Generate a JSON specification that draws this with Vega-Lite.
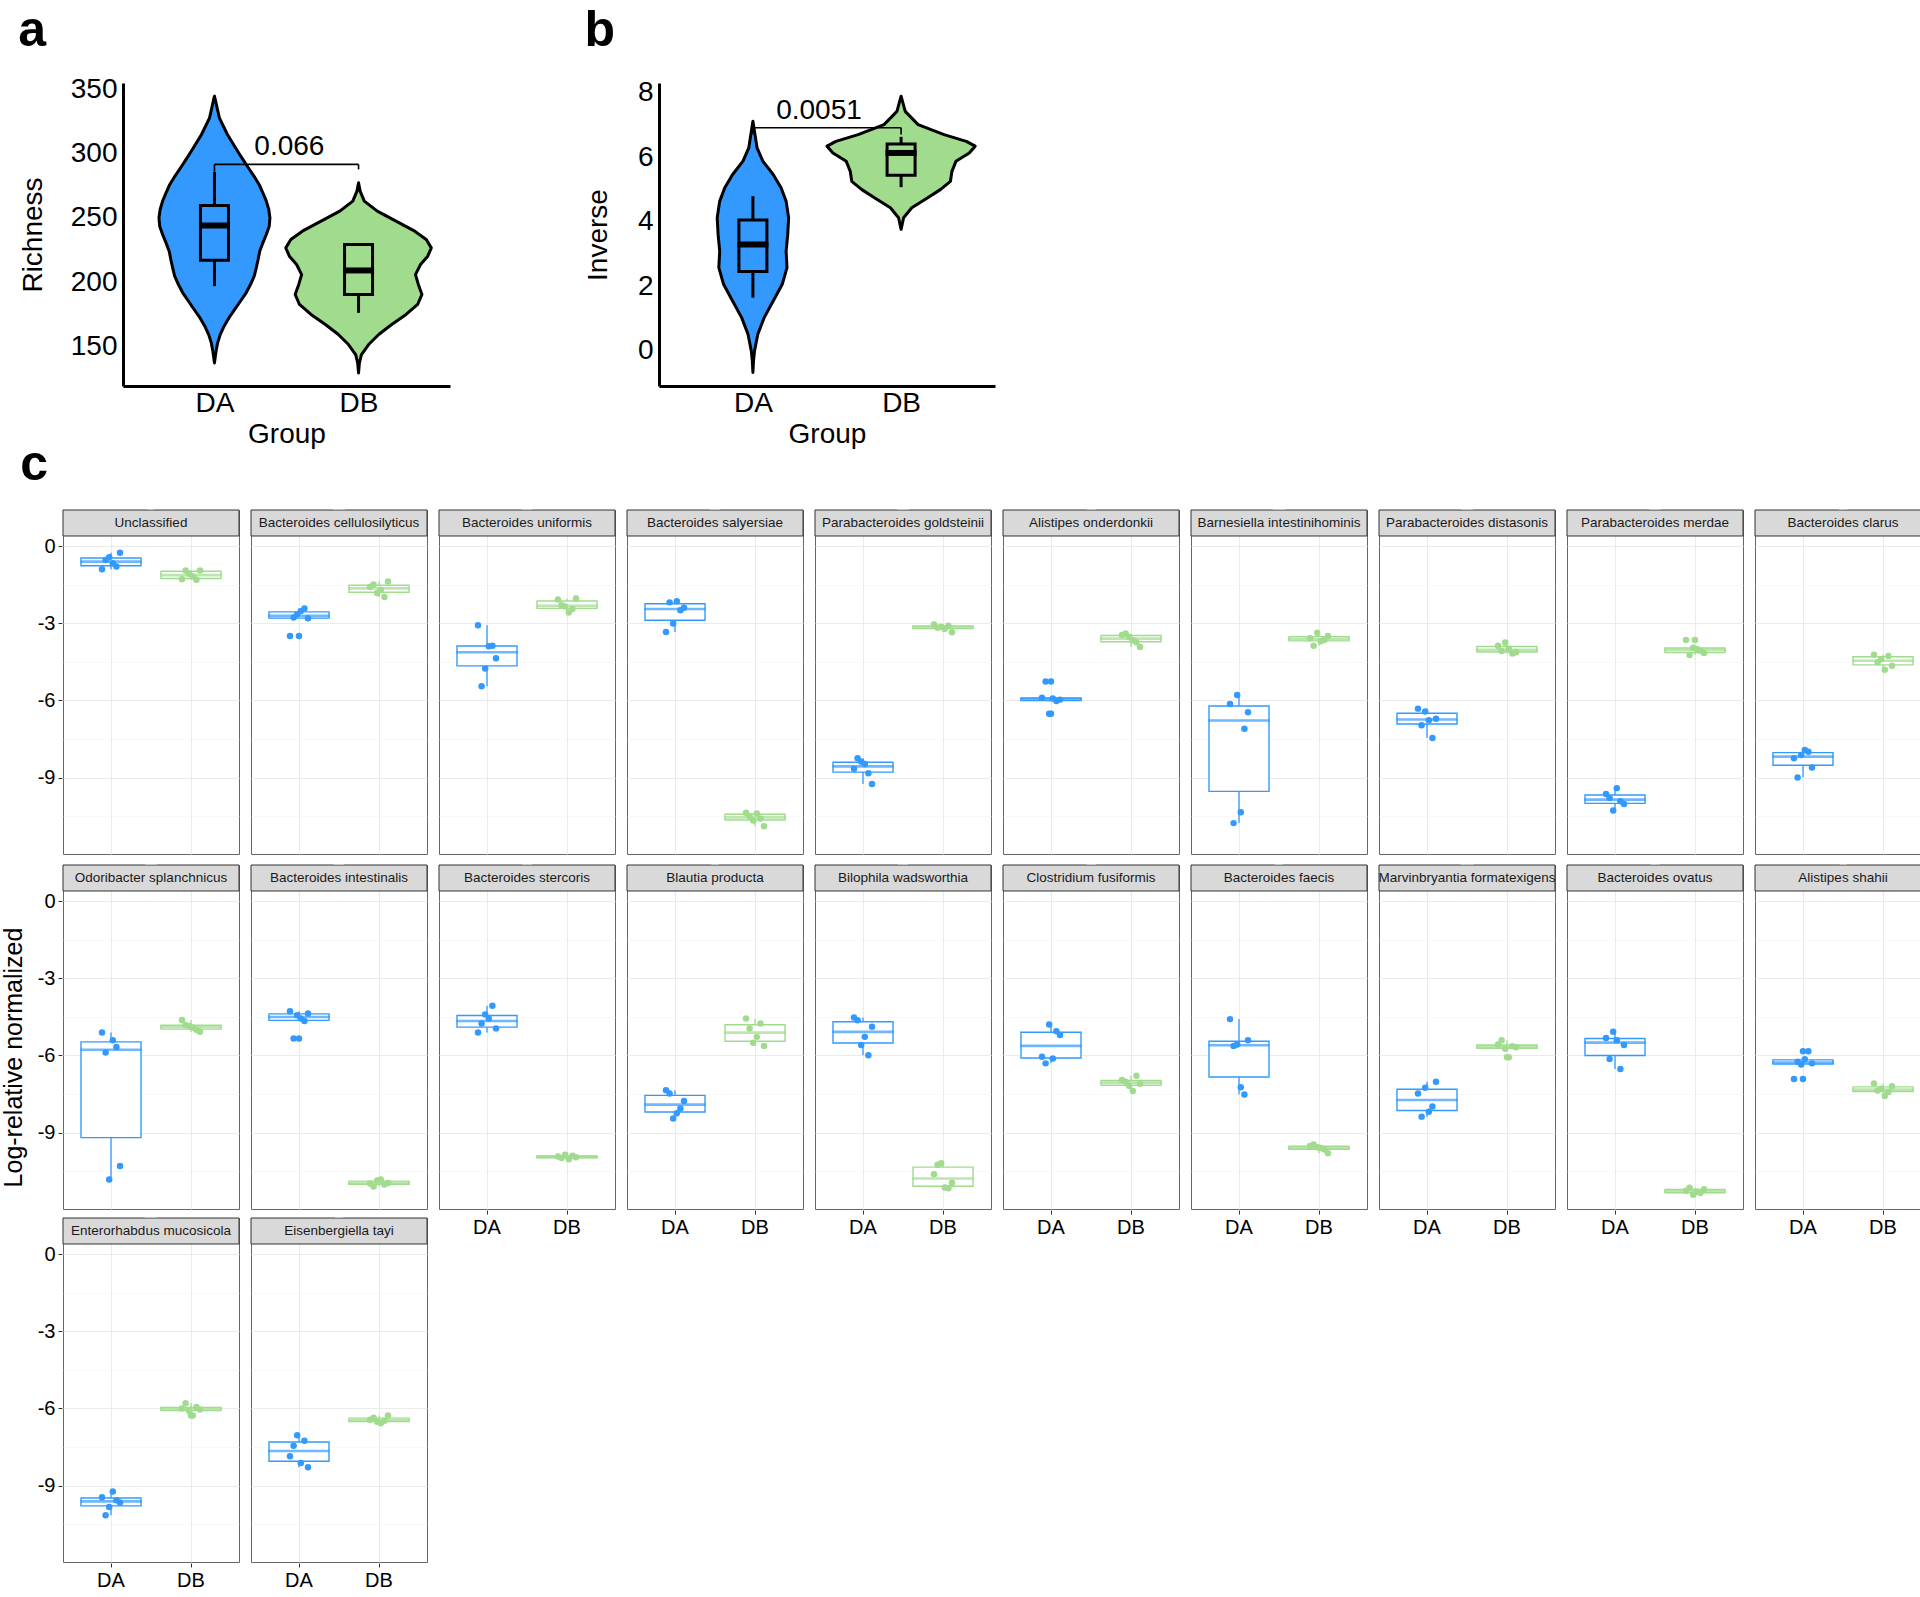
{
"$schema": "https://vega.github.io/schema/vega-lite/v6.json",
"background": "white",
"padding": {"left": 1, "top": 5, "right": 2, "bottom": 0},
"config": {
  "font": "Liberation Sans",
  "view": {"stroke": "#666666", "strokeWidth": 1},
  "axis": {"labelColor": "#000000", "titleColor": "#000000", "titleFontWeight": "normal", "labelFont": "Liberation Sans", "titleFont": "Liberation Sans"},
  "title": {"color": "#000000", "font": "Liberation Sans"},
  "header": {"labels": false, "title": null, "labelFontSize": 1, "labelColor": "#FFFFFF", "labelPadding": 0},
  "headerFacet": {"labels": false, "title": null, "labelFontSize": 1, "labelColor": "#FFFFFF", "labelPadding": 0}
},
"datasets": {
  "violin_a": [
    {"g":"DA","y":344.8,"lo":1,"hi":1},
    {"g":"DA","y":340.9,"lo":0.992,"hi":1.008},
    {"g":"DA","y":327.9,"lo":0.966,"hi":1.034},
    {"g":"DA","y":314.9,"lo":0.91,"hi":1.09},
    {"g":"DA","y":302,"lo":0.84,"hi":1.16},
    {"g":"DA","y":295.5,"lo":0.803,"hi":1.197},
    {"g":"DA","y":289,"lo":0.765,"hi":1.235},
    {"g":"DA","y":282.5,"lo":0.726,"hi":1.274},
    {"g":"DA","y":276,"lo":0.69,"hi":1.31},
    {"g":"DA","y":269.5,"lo":0.664,"hi":1.336},
    {"g":"DA","y":263,"lo":0.64,"hi":1.36},
    {"g":"DA","y":256.5,"lo":0.623,"hi":1.377},
    {"g":"DA","y":250,"lo":0.615,"hi":1.385},
    {"g":"DA","y":243.5,"lo":0.62,"hi":1.38},
    {"g":"DA","y":237,"lo":0.64,"hi":1.36},
    {"g":"DA","y":230.5,"lo":0.664,"hi":1.336},
    {"g":"DA","y":224,"lo":0.686,"hi":1.314},
    {"g":"DA","y":217.5,"lo":0.697,"hi":1.303},
    {"g":"DA","y":211,"lo":0.71,"hi":1.29},
    {"g":"DA","y":204.5,"lo":0.724,"hi":1.276},
    {"g":"DA","y":198,"lo":0.75,"hi":1.25},
    {"g":"DA","y":191.6,"lo":0.78,"hi":1.22},
    {"g":"DA","y":185,"lo":0.82,"hi":1.18},
    {"g":"DA","y":178.6,"lo":0.859,"hi":1.141},
    {"g":"DA","y":172,"lo":0.9,"hi":1.1},
    {"g":"DA","y":165.6,"lo":0.933,"hi":1.067},
    {"g":"DA","y":159,"lo":0.96,"hi":1.04},
    {"g":"DA","y":152.6,"lo":0.978,"hi":1.022},
    {"g":"DA","y":146,"lo":0.989,"hi":1.011},
    {"g":"DA","y":137,"lo":1,"hi":1},
    {"g":"DB","y":277.3,"lo":2,"hi":2},
    {"g":"DB","y":270.8,"lo":1.989,"hi":2.011},
    {"g":"DB","y":263.0,"lo":1.96,"hi":2.04},
    {"g":"DB","y":255.2,"lo":1.87,"hi":2.13},
    {"g":"DB","y":247.4,"lo":1.74,"hi":2.26},
    {"g":"DB","y":239.6,"lo":1.61,"hi":2.39},
    {"g":"DB","y":233.1,"lo":1.53,"hi":2.47},
    {"g":"DB","y":226.6,"lo":1.495,"hi":2.505},
    {"g":"DB","y":220.1,"lo":1.52,"hi":2.48},
    {"g":"DB","y":213.6,"lo":1.57,"hi":2.43},
    {"g":"DB","y":205.8,"lo":1.605,"hi":2.395},
    {"g":"DB","y":198.1,"lo":1.585,"hi":2.415},
    {"g":"DB","y":190.3,"lo":1.56,"hi":2.44},
    {"g":"DB","y":182.5,"lo":1.59,"hi":2.41},
    {"g":"DB","y":174.7,"lo":1.67,"hi":2.33},
    {"g":"DB","y":166.9,"lo":1.77,"hi":2.23},
    {"g":"DB","y":159.1,"lo":1.86,"hi":2.14},
    {"g":"DB","y":151.3,"lo":1.93,"hi":2.07},
    {"g":"DB","y":143.5,"lo":1.98,"hi":2.02},
    {"g":"DB","y":137.0,"lo":1.994,"hi":2.006},
    {"g":"DB","y":129.2,"lo":2,"hi":2}
  ],
  "box_a": [
    {"g":"DA","pos":1,"lower":196.8,"q1":217,"median":244,"q3":259.6,"upper":285.8},
    {"g":"DB","pos":2,"lower":176,"q1":190.3,"median":209,"q3":229.2,"upper":230}
  ],
  "brk_a": [
    {"x1":1,"x2":2,"y1":291.6,"y2":291.6},
    {"x1":1,"x2":1,"y1":291.6,"y2":286},
    {"x1":2,"x2":2,"y1":291.6,"y2":287.7}
  ],
  "lab_a": [{"lx":1.52,"ly":298.8,"label":"0.066"}],
  "violin_b": [
    {"g":"DA","y":7.123,"lo":1,"hi":1},
    {"g":"DA","y":6.71,"lo":0.986,"hi":1.014},
    {"g":"DA","y":6.297,"lo":0.972,"hi":1.028},
    {"g":"DA","y":5.884,"lo":0.933,"hi":1.067},
    {"g":"DA","y":5.471,"lo":0.863,"hi":1.137},
    {"g":"DA","y":5.058,"lo":0.81,"hi":1.19},
    {"g":"DA","y":4.645,"lo":0.776,"hi":1.224},
    {"g":"DA","y":4.129,"lo":0.759,"hi":1.241},
    {"g":"DA","y":3.613,"lo":0.765,"hi":1.235},
    {"g":"DA","y":3.097,"lo":0.776,"hi":1.224},
    {"g":"DA","y":2.581,"lo":0.77,"hi":1.23},
    {"g":"DA","y":2.065,"lo":0.802,"hi":1.198},
    {"g":"DA","y":1.548,"lo":0.863,"hi":1.137},
    {"g":"DA","y":1.032,"lo":0.924,"hi":1.076},
    {"g":"DA","y":0.516,"lo":0.967,"hi":1.033},
    {"g":"DA","y":0.0,"lo":0.989,"hi":1.011},
    {"g":"DA","y":-0.31,"lo":0.996,"hi":1.004},
    {"g":"DA","y":-0.671,"lo":1,"hi":1},
    {"g":"DB","y":7.90,"lo":2,"hi":2},
    {"g":"DB","y":7.43,"lo":1.972,"hi":2.028},
    {"g":"DB","y":7.02,"lo":1.885,"hi":2.115},
    {"g":"DB","y":6.71,"lo":1.71,"hi":2.29},
    {"g":"DB","y":6.50,"lo":1.56,"hi":2.44},
    {"g":"DB","y":6.35,"lo":1.50,"hi":2.50},
    {"g":"DB","y":6.14,"lo":1.54,"hi":2.46},
    {"g":"DB","y":5.88,"lo":1.63,"hi":2.37},
    {"g":"DB","y":5.57,"lo":1.657,"hi":2.343},
    {"g":"DB","y":5.26,"lo":1.667,"hi":2.333},
    {"g":"DB","y":5.01,"lo":1.733,"hi":2.267},
    {"g":"DB","y":4.75,"lo":1.82,"hi":2.18},
    {"g":"DB","y":4.44,"lo":1.928,"hi":2.072},
    {"g":"DB","y":4.13,"lo":1.983,"hi":2.017},
    {"g":"DB","y":3.77,"lo":2,"hi":2}
  ],
  "box_b": [
    {"g":"DA","pos":1,"lower":1.65,"q1":2.46,"median":3.30,"q3":4.06,"upper":4.80},
    {"g":"DB","pos":2,"lower":5.08,"q1":5.45,"median":6.14,"q3":6.42,"upper":6.64}
  ],
  "brk_b": [
    {"x1":1,"x2":2,"y1":6.92,"y2":6.92},
    {"x1":1,"x2":1,"y1":6.92,"y2":6.72},
    {"x1":2,"x2":2,"y1":6.92,"y2":6.71}
  ],
  "lab_b": [{"lx":1.446,"ly":7.205,"label":"0.0051"}],
  "micro": [
    {"taxon":"Unclassified","group":"DA","sample":1,"value":-0.90},
    {"taxon":"Unclassified","group":"DA","sample":2,"value":-0.54},
    {"taxon":"Unclassified","group":"DA","sample":3,"value":-0.44},
    {"taxon":"Unclassified","group":"DA","sample":4,"value":-0.67},
    {"taxon":"Unclassified","group":"DA","sample":5,"value":-0.80},
    {"taxon":"Unclassified","group":"DA","sample":6,"value":-0.26},
    {"taxon":"Unclassified","group":"DB","sample":1,"value":-1.29},
    {"taxon":"Unclassified","group":"DB","sample":2,"value":-0.95},
    {"taxon":"Unclassified","group":"DB","sample":3,"value":-1.08},
    {"taxon":"Unclassified","group":"DB","sample":4,"value":-1.18},
    {"taxon":"Unclassified","group":"DB","sample":5,"value":-1.31},
    {"taxon":"Unclassified","group":"DB","sample":6,"value":-0.95},
    {"taxon":"Bacteroides cellulosilyticus","group":"DA","sample":1,"value":-3.50},
    {"taxon":"Bacteroides cellulosilyticus","group":"DA","sample":2,"value":-2.78},
    {"taxon":"Bacteroides cellulosilyticus","group":"DA","sample":3,"value":-2.65},
    {"taxon":"Bacteroides cellulosilyticus","group":"DA","sample":4,"value":-2.53},
    {"taxon":"Bacteroides cellulosilyticus","group":"DA","sample":5,"value":-2.43},
    {"taxon":"Bacteroides cellulosilyticus","group":"DA","sample":6,"value":-2.81},
    {"taxon":"Bacteroides cellulosilyticus","group":"DB","sample":1,"value":-1.59},
    {"taxon":"Bacteroides cellulosilyticus","group":"DB","sample":2,"value":-1.50},
    {"taxon":"Bacteroides cellulosilyticus","group":"DB","sample":3,"value":-1.83},
    {"taxon":"Bacteroides cellulosilyticus","group":"DB","sample":4,"value":-1.70},
    {"taxon":"Bacteroides cellulosilyticus","group":"DB","sample":5,"value":-1.98},
    {"taxon":"Bacteroides cellulosilyticus","group":"DB","sample":6,"value":-1.375},
    {"taxon":"Bacteroides uniformis","group":"DA","sample":1,"value":-3.08},
    {"taxon":"Bacteroides uniformis","group":"DA","sample":2,"value":-5.45},
    {"taxon":"Bacteroides uniformis","group":"DA","sample":3,"value":-4.76},
    {"taxon":"Bacteroides uniformis","group":"DA","sample":4,"value":-3.90},
    {"taxon":"Bacteroides uniformis","group":"DA","sample":5,"value":-3.88},
    {"taxon":"Bacteroides uniformis","group":"DA","sample":6,"value":-4.36},
    {"taxon":"Bacteroides uniformis","group":"DB","sample":1,"value":-2.08},
    {"taxon":"Bacteroides uniformis","group":"DB","sample":2,"value":-2.30},
    {"taxon":"Bacteroides uniformis","group":"DB","sample":3,"value":-2.35},
    {"taxon":"Bacteroides uniformis","group":"DB","sample":4,"value":-2.58},
    {"taxon":"Bacteroides uniformis","group":"DB","sample":5,"value":-2.45},
    {"taxon":"Bacteroides uniformis","group":"DB","sample":6,"value":-2.04},
    {"taxon":"Bacteroides salyersiae","group":"DA","sample":1,"value":-3.34},
    {"taxon":"Bacteroides salyersiae","group":"DA","sample":2,"value":-2.19},
    {"taxon":"Bacteroides salyersiae","group":"DA","sample":3,"value":-3.01},
    {"taxon":"Bacteroides salyersiae","group":"DA","sample":4,"value":-2.15},
    {"taxon":"Bacteroides salyersiae","group":"DA","sample":5,"value":-2.50},
    {"taxon":"Bacteroides salyersiae","group":"DA","sample":6,"value":-2.40},
    {"taxon":"Bacteroides salyersiae","group":"DB","sample":1,"value":-10.37},
    {"taxon":"Bacteroides salyersiae","group":"DB","sample":2,"value":-10.50},
    {"taxon":"Bacteroides salyersiae","group":"DB","sample":3,"value":-10.67},
    {"taxon":"Bacteroides salyersiae","group":"DB","sample":4,"value":-10.40},
    {"taxon":"Bacteroides salyersiae","group":"DB","sample":5,"value":-10.59},
    {"taxon":"Bacteroides salyersiae","group":"DB","sample":6,"value":-10.89},
    {"taxon":"Parabacteroides goldsteinii","group":"DA","sample":1,"value":-8.66},
    {"taxon":"Parabacteroides goldsteinii","group":"DA","sample":2,"value":-8.25},
    {"taxon":"Parabacteroides goldsteinii","group":"DA","sample":3,"value":-8.38},
    {"taxon":"Parabacteroides goldsteinii","group":"DA","sample":4,"value":-8.47},
    {"taxon":"Parabacteroides goldsteinii","group":"DA","sample":5,"value":-8.83},
    {"taxon":"Parabacteroides goldsteinii","group":"DA","sample":6,"value":-9.25},
    {"taxon":"Parabacteroides goldsteinii","group":"DB","sample":1,"value":-3.05},
    {"taxon":"Parabacteroides goldsteinii","group":"DB","sample":2,"value":-3.18},
    {"taxon":"Parabacteroides goldsteinii","group":"DB","sample":3,"value":-3.14},
    {"taxon":"Parabacteroides goldsteinii","group":"DB","sample":4,"value":-3.22},
    {"taxon":"Parabacteroides goldsteinii","group":"DB","sample":5,"value":-3.10},
    {"taxon":"Parabacteroides goldsteinii","group":"DB","sample":6,"value":-3.35},
    {"taxon":"Alistipes onderdonkii","group":"DA","sample":1,"value":-5.90},
    {"taxon":"Alistipes onderdonkii","group":"DA","sample":2,"value":-5.27},
    {"taxon":"Alistipes onderdonkii","group":"DA","sample":3,"value":-6.52},
    {"taxon":"Alistipes onderdonkii","group":"DA","sample":4,"value":-5.93},
    {"taxon":"Alistipes onderdonkii","group":"DA","sample":5,"value":-6.02},
    {"taxon":"Alistipes onderdonkii","group":"DA","sample":6,"value":-5.97},
    {"taxon":"Alistipes onderdonkii","group":"DB","sample":1,"value":-3.46},
    {"taxon":"Alistipes onderdonkii","group":"DB","sample":2,"value":-3.40},
    {"taxon":"Alistipes onderdonkii","group":"DB","sample":3,"value":-3.54},
    {"taxon":"Alistipes onderdonkii","group":"DB","sample":4,"value":-3.66},
    {"taxon":"Alistipes onderdonkii","group":"DB","sample":5,"value":-3.74},
    {"taxon":"Alistipes onderdonkii","group":"DB","sample":6,"value":-3.92},
    {"taxon":"Barnesiella intestinihominis","group":"DA","sample":1,"value":-6.14},
    {"taxon":"Barnesiella intestinihominis","group":"DA","sample":2,"value":-10.77},
    {"taxon":"Barnesiella intestinihominis","group":"DA","sample":3,"value":-5.79},
    {"taxon":"Barnesiella intestinihominis","group":"DA","sample":4,"value":-10.35},
    {"taxon":"Barnesiella intestinihominis","group":"DA","sample":5,"value":-7.10},
    {"taxon":"Barnesiella intestinihominis","group":"DA","sample":6,"value":-6.46},
    {"taxon":"Barnesiella intestinihominis","group":"DB","sample":1,"value":-3.58},
    {"taxon":"Barnesiella intestinihominis","group":"DB","sample":2,"value":-3.88},
    {"taxon":"Barnesiella intestinihominis","group":"DB","sample":3,"value":-3.37},
    {"taxon":"Barnesiella intestinihominis","group":"DB","sample":4,"value":-3.70},
    {"taxon":"Barnesiella intestinihominis","group":"DB","sample":5,"value":-3.64},
    {"taxon":"Barnesiella intestinihominis","group":"DB","sample":6,"value":-3.50},
    {"taxon":"Parabacteroides distasonis","group":"DA","sample":1,"value":-6.32},
    {"taxon":"Parabacteroides distasonis","group":"DA","sample":2,"value":-6.97},
    {"taxon":"Parabacteroides distasonis","group":"DA","sample":3,"value":-6.43},
    {"taxon":"Parabacteroides distasonis","group":"DA","sample":4,"value":-6.77},
    {"taxon":"Parabacteroides distasonis","group":"DA","sample":5,"value":-7.46},
    {"taxon":"Parabacteroides distasonis","group":"DA","sample":6,"value":-6.71},
    {"taxon":"Parabacteroides distasonis","group":"DB","sample":1,"value":-3.88},
    {"taxon":"Parabacteroides distasonis","group":"DB","sample":2,"value":-4.08},
    {"taxon":"Parabacteroides distasonis","group":"DB","sample":3,"value":-3.75},
    {"taxon":"Parabacteroides distasonis","group":"DB","sample":4,"value":-3.99},
    {"taxon":"Parabacteroides distasonis","group":"DB","sample":5,"value":-4.18},
    {"taxon":"Parabacteroides distasonis","group":"DB","sample":6,"value":-4.13},
    {"taxon":"Parabacteroides merdae","group":"DA","sample":1,"value":-9.64},
    {"taxon":"Parabacteroides merdae","group":"DA","sample":2,"value":-9.79},
    {"taxon":"Parabacteroides merdae","group":"DA","sample":3,"value":-10.28},
    {"taxon":"Parabacteroides merdae","group":"DA","sample":4,"value":-9.41},
    {"taxon":"Parabacteroides merdae","group":"DA","sample":5,"value":-9.92},
    {"taxon":"Parabacteroides merdae","group":"DA","sample":6,"value":-10.03},
    {"taxon":"Parabacteroides merdae","group":"DB","sample":1,"value":-3.65},
    {"taxon":"Parabacteroides merdae","group":"DB","sample":2,"value":-4.24},
    {"taxon":"Parabacteroides merdae","group":"DB","sample":3,"value":-3.95},
    {"taxon":"Parabacteroides merdae","group":"DB","sample":4,"value":-4.00},
    {"taxon":"Parabacteroides merdae","group":"DB","sample":5,"value":-4.07},
    {"taxon":"Parabacteroides merdae","group":"DB","sample":6,"value":-4.16},
    {"taxon":"Bacteroides clarus","group":"DA","sample":1,"value":-8.25},
    {"taxon":"Bacteroides clarus","group":"DA","sample":2,"value":-9.00},
    {"taxon":"Bacteroides clarus","group":"DA","sample":3,"value":-8.12},
    {"taxon":"Bacteroides clarus","group":"DA","sample":4,"value":-7.93},
    {"taxon":"Bacteroides clarus","group":"DA","sample":5,"value":-8.00},
    {"taxon":"Bacteroides clarus","group":"DA","sample":6,"value":-8.61},
    {"taxon":"Bacteroides clarus","group":"DB","sample":1,"value":-4.23},
    {"taxon":"Bacteroides clarus","group":"DB","sample":2,"value":-4.52},
    {"taxon":"Bacteroides clarus","group":"DB","sample":3,"value":-4.40},
    {"taxon":"Bacteroides clarus","group":"DB","sample":4,"value":-4.81},
    {"taxon":"Bacteroides clarus","group":"DB","sample":5,"value":-4.27},
    {"taxon":"Bacteroides clarus","group":"DB","sample":6,"value":-4.65},
    {"taxon":"Odoribacter splanchnicus","group":"DA","sample":1,"value":-5.11},
    {"taxon":"Odoribacter splanchnicus","group":"DA","sample":2,"value":-5.89},
    {"taxon":"Odoribacter splanchnicus","group":"DA","sample":3,"value":-10.82},
    {"taxon":"Odoribacter splanchnicus","group":"DA","sample":4,"value":-5.41},
    {"taxon":"Odoribacter splanchnicus","group":"DA","sample":5,"value":-5.67},
    {"taxon":"Odoribacter splanchnicus","group":"DA","sample":6,"value":-10.30},
    {"taxon":"Odoribacter splanchnicus","group":"DB","sample":1,"value":-4.62},
    {"taxon":"Odoribacter splanchnicus","group":"DB","sample":2,"value":-4.82},
    {"taxon":"Odoribacter splanchnicus","group":"DB","sample":3,"value":-4.86},
    {"taxon":"Odoribacter splanchnicus","group":"DB","sample":4,"value":-4.92},
    {"taxon":"Odoribacter splanchnicus","group":"DB","sample":5,"value":-5.00},
    {"taxon":"Odoribacter splanchnicus","group":"DB","sample":6,"value":-5.08},
    {"taxon":"Bacteroides intestinalis","group":"DA","sample":1,"value":-4.28},
    {"taxon":"Bacteroides intestinalis","group":"DA","sample":2,"value":-5.34},
    {"taxon":"Bacteroides intestinalis","group":"DA","sample":3,"value":-4.44},
    {"taxon":"Bacteroides intestinalis","group":"DA","sample":4,"value":-4.57},
    {"taxon":"Bacteroides intestinalis","group":"DA","sample":5,"value":-4.66},
    {"taxon":"Bacteroides intestinalis","group":"DA","sample":6,"value":-4.37},
    {"taxon":"Bacteroides intestinalis","group":"DB","sample":1,"value":-10.98},
    {"taxon":"Bacteroides intestinalis","group":"DB","sample":2,"value":-11.10},
    {"taxon":"Bacteroides intestinalis","group":"DB","sample":3,"value":-10.86},
    {"taxon":"Bacteroides intestinalis","group":"DB","sample":4,"value":-10.82},
    {"taxon":"Bacteroides intestinalis","group":"DB","sample":5,"value":-11.02},
    {"taxon":"Bacteroides intestinalis","group":"DB","sample":6,"value":-10.96},
    {"taxon":"Bacteroides stercoris","group":"DA","sample":1,"value":-5.11},
    {"taxon":"Bacteroides stercoris","group":"DA","sample":2,"value":-4.76},
    {"taxon":"Bacteroides stercoris","group":"DA","sample":3,"value":-4.41},
    {"taxon":"Bacteroides stercoris","group":"DA","sample":4,"value":-4.57},
    {"taxon":"Bacteroides stercoris","group":"DA","sample":5,"value":-4.07},
    {"taxon":"Bacteroides stercoris","group":"DA","sample":6,"value":-4.95},
    {"taxon":"Bacteroides stercoris","group":"DB","sample":1,"value":-9.93},
    {"taxon":"Bacteroides stercoris","group":"DB","sample":2,"value":-9.99},
    {"taxon":"Bacteroides stercoris","group":"DB","sample":3,"value":-9.86},
    {"taxon":"Bacteroides stercoris","group":"DB","sample":4,"value":-10.04},
    {"taxon":"Bacteroides stercoris","group":"DB","sample":5,"value":-9.90},
    {"taxon":"Bacteroides stercoris","group":"DB","sample":6,"value":-9.96},
    {"taxon":"Blautia producta","group":"DA","sample":1,"value":-7.35},
    {"taxon":"Blautia producta","group":"DA","sample":2,"value":-7.48},
    {"taxon":"Blautia producta","group":"DA","sample":3,"value":-8.45},
    {"taxon":"Blautia producta","group":"DA","sample":4,"value":-8.25},
    {"taxon":"Blautia producta","group":"DA","sample":5,"value":-8.06},
    {"taxon":"Blautia producta","group":"DA","sample":6,"value":-7.77},
    {"taxon":"Blautia producta","group":"DB","sample":1,"value":-4.57},
    {"taxon":"Blautia producta","group":"DB","sample":2,"value":-4.95},
    {"taxon":"Blautia producta","group":"DB","sample":3,"value":-5.51},
    {"taxon":"Blautia producta","group":"DB","sample":4,"value":-5.28},
    {"taxon":"Blautia producta","group":"DB","sample":5,"value":-4.76},
    {"taxon":"Blautia producta","group":"DB","sample":6,"value":-5.63},
    {"taxon":"Bilophila wadsworthia","group":"DA","sample":1,"value":-4.53},
    {"taxon":"Bilophila wadsworthia","group":"DA","sample":2,"value":-4.63},
    {"taxon":"Bilophila wadsworthia","group":"DA","sample":3,"value":-5.60},
    {"taxon":"Bilophila wadsworthia","group":"DA","sample":4,"value":-5.28},
    {"taxon":"Bilophila wadsworthia","group":"DA","sample":5,"value":-5.99},
    {"taxon":"Bilophila wadsworthia","group":"DA","sample":6,"value":-4.89},
    {"taxon":"Bilophila wadsworthia","group":"DB","sample":1,"value":-10.62},
    {"taxon":"Bilophila wadsworthia","group":"DB","sample":2,"value":-10.25},
    {"taxon":"Bilophila wadsworthia","group":"DB","sample":3,"value":-10.19},
    {"taxon":"Bilophila wadsworthia","group":"DB","sample":4,"value":-11.13},
    {"taxon":"Bilophila wadsworthia","group":"DB","sample":5,"value":-11.16},
    {"taxon":"Bilophila wadsworthia","group":"DB","sample":6,"value":-10.95},
    {"taxon":"Clostridium fusiformis","group":"DA","sample":1,"value":-6.05},
    {"taxon":"Clostridium fusiformis","group":"DA","sample":2,"value":-6.31},
    {"taxon":"Clostridium fusiformis","group":"DA","sample":3,"value":-4.80},
    {"taxon":"Clostridium fusiformis","group":"DA","sample":4,"value":-6.12},
    {"taxon":"Clostridium fusiformis","group":"DA","sample":5,"value":-5.06},
    {"taxon":"Clostridium fusiformis","group":"DA","sample":6,"value":-5.21},
    {"taxon":"Clostridium fusiformis","group":"DB","sample":1,"value":-6.96},
    {"taxon":"Clostridium fusiformis","group":"DB","sample":2,"value":-7.02},
    {"taxon":"Clostridium fusiformis","group":"DB","sample":3,"value":-7.18},
    {"taxon":"Clostridium fusiformis","group":"DB","sample":4,"value":-7.38},
    {"taxon":"Clostridium fusiformis","group":"DB","sample":5,"value":-6.79},
    {"taxon":"Clostridium fusiformis","group":"DB","sample":6,"value":-7.10},
    {"taxon":"Bacteroides faecis","group":"DA","sample":1,"value":-4.59},
    {"taxon":"Bacteroides faecis","group":"DA","sample":2,"value":-5.63},
    {"taxon":"Bacteroides faecis","group":"DA","sample":3,"value":-5.58},
    {"taxon":"Bacteroides faecis","group":"DA","sample":4,"value":-7.24},
    {"taxon":"Bacteroides faecis","group":"DA","sample":5,"value":-7.52},
    {"taxon":"Bacteroides faecis","group":"DA","sample":6,"value":-5.41},
    {"taxon":"Bacteroides faecis","group":"DB","sample":1,"value":-9.52},
    {"taxon":"Bacteroides faecis","group":"DB","sample":2,"value":-9.46},
    {"taxon":"Bacteroides faecis","group":"DB","sample":3,"value":-9.57},
    {"taxon":"Bacteroides faecis","group":"DB","sample":4,"value":-9.60},
    {"taxon":"Bacteroides faecis","group":"DB","sample":5,"value":-9.66},
    {"taxon":"Bacteroides faecis","group":"DB","sample":6,"value":-9.80},
    {"taxon":"Marvinbryantia formatexigens","group":"DA","sample":1,"value":-7.48},
    {"taxon":"Marvinbryantia formatexigens","group":"DA","sample":2,"value":-8.38},
    {"taxon":"Marvinbryantia formatexigens","group":"DA","sample":3,"value":-7.26},
    {"taxon":"Marvinbryantia formatexigens","group":"DA","sample":4,"value":-8.19},
    {"taxon":"Marvinbryantia formatexigens","group":"DA","sample":5,"value":-7.99},
    {"taxon":"Marvinbryantia formatexigens","group":"DA","sample":6,"value":-7.02},
    {"taxon":"Marvinbryantia formatexigens","group":"DB","sample":1,"value":-5.58},
    {"taxon":"Marvinbryantia formatexigens","group":"DB","sample":2,"value":-5.41},
    {"taxon":"Marvinbryantia formatexigens","group":"DB","sample":3,"value":-5.74},
    {"taxon":"Marvinbryantia formatexigens","group":"DB","sample":4,"value":-6.07},
    {"taxon":"Marvinbryantia formatexigens","group":"DB","sample":5,"value":-5.64},
    {"taxon":"Marvinbryantia formatexigens","group":"DB","sample":6,"value":-5.68},
    {"taxon":"Bacteroides ovatus","group":"DA","sample":1,"value":-5.32},
    {"taxon":"Bacteroides ovatus","group":"DA","sample":2,"value":-6.14},
    {"taxon":"Bacteroides ovatus","group":"DA","sample":3,"value":-5.08},
    {"taxon":"Bacteroides ovatus","group":"DA","sample":4,"value":-5.41},
    {"taxon":"Bacteroides ovatus","group":"DA","sample":5,"value":-6.53},
    {"taxon":"Bacteroides ovatus","group":"DA","sample":6,"value":-5.60},
    {"taxon":"Bacteroides ovatus","group":"DB","sample":1,"value":-11.26},
    {"taxon":"Bacteroides ovatus","group":"DB","sample":2,"value":-11.14},
    {"taxon":"Bacteroides ovatus","group":"DB","sample":3,"value":-11.42},
    {"taxon":"Bacteroides ovatus","group":"DB","sample":4,"value":-11.30},
    {"taxon":"Bacteroides ovatus","group":"DB","sample":5,"value":-11.35},
    {"taxon":"Bacteroides ovatus","group":"DB","sample":6,"value":-11.20},
    {"taxon":"Alistipes shahii","group":"DA","sample":1,"value":-6.92},
    {"taxon":"Alistipes shahii","group":"DA","sample":2,"value":-6.25},
    {"taxon":"Alistipes shahii","group":"DA","sample":3,"value":-6.35},
    {"taxon":"Alistipes shahii","group":"DA","sample":4,"value":-6.15},
    {"taxon":"Alistipes shahii","group":"DA","sample":5,"value":-5.84},
    {"taxon":"Alistipes shahii","group":"DA","sample":6,"value":-6.31},
    {"taxon":"Alistipes shahii","group":"DB","sample":1,"value":-7.09},
    {"taxon":"Alistipes shahii","group":"DB","sample":2,"value":-7.36},
    {"taxon":"Alistipes shahii","group":"DB","sample":3,"value":-7.30},
    {"taxon":"Alistipes shahii","group":"DB","sample":4,"value":-7.58},
    {"taxon":"Alistipes shahii","group":"DB","sample":5,"value":-7.42},
    {"taxon":"Alistipes shahii","group":"DB","sample":6,"value":-7.20},
    {"taxon":"Enterorhabdus mucosicola","group":"DA","sample":1,"value":-9.45},
    {"taxon":"Enterorhabdus mucosicola","group":"DA","sample":2,"value":-10.15},
    {"taxon":"Enterorhabdus mucosicola","group":"DA","sample":3,"value":-9.83},
    {"taxon":"Enterorhabdus mucosicola","group":"DA","sample":4,"value":-9.23},
    {"taxon":"Enterorhabdus mucosicola","group":"DA","sample":5,"value":-9.57},
    {"taxon":"Enterorhabdus mucosicola","group":"DA","sample":6,"value":-9.66},
    {"taxon":"Enterorhabdus mucosicola","group":"DB","sample":1,"value":-6.00},
    {"taxon":"Enterorhabdus mucosicola","group":"DB","sample":2,"value":-5.80},
    {"taxon":"Enterorhabdus mucosicola","group":"DB","sample":3,"value":-6.10},
    {"taxon":"Enterorhabdus mucosicola","group":"DB","sample":4,"value":-6.28},
    {"taxon":"Enterorhabdus mucosicola","group":"DB","sample":5,"value":-5.95},
    {"taxon":"Enterorhabdus mucosicola","group":"DB","sample":6,"value":-6.04},
    {"taxon":"Eisenbergiella tayi","group":"DA","sample":1,"value":-7.86},
    {"taxon":"Eisenbergiella tayi","group":"DA","sample":2,"value":-7.45},
    {"taxon":"Eisenbergiella tayi","group":"DA","sample":3,"value":-7.04},
    {"taxon":"Eisenbergiella tayi","group":"DA","sample":4,"value":-8.12},
    {"taxon":"Eisenbergiella tayi","group":"DA","sample":5,"value":-7.26},
    {"taxon":"Eisenbergiella tayi","group":"DA","sample":6,"value":-8.29},
    {"taxon":"Eisenbergiella tayi","group":"DB","sample":1,"value":-6.44},
    {"taxon":"Eisenbergiella tayi","group":"DB","sample":2,"value":-6.36},
    {"taxon":"Eisenbergiella tayi","group":"DB","sample":3,"value":-6.52},
    {"taxon":"Eisenbergiella tayi","group":"DB","sample":4,"value":-6.58},
    {"taxon":"Eisenbergiella tayi","group":"DB","sample":5,"value":-6.48},
    {"taxon":"Eisenbergiella tayi","group":"DB","sample":6,"value":-6.28}
  ]
},
"concat": [
  {
    "hconcat": [
      {
        "width": 387, "height": 303,
        "view": {"stroke": null},
        "title": {"text": "a", "anchor": "start", "frame": "bounds", "fontSize": 50, "fontWeight": "bold", "baseline": "top", "offset": 19, "dx": -1},
        "layer": [
          {
            "data": {"name": "violin_a"},
            "mark": {"type": "area", "orient": "horizontal", "stroke": "#000000", "strokeWidth": 3, "strokeJoin": "round", "opacity": 1},
            "encoding": {
              "y": {"field": "y", "type": "quantitative", "title": "Richness", "scale": {"domain": [119, 355], "nice": false, "zero": false},
                    "axis": {"values": [150, 200, 250, 300, 350], "grid": false, "ticks": false, "domainColor": "#000000", "domainWidth": 3, "labelFontSize": 28, "labelPadding": 6, "titleFontSize": 28, "titlePadding": 23, "offset": -60}},
              "x": {"field": "lo", "type": "quantitative", "title": "Group", "scale": {"domain": [0.4, 2.6], "range": [60, 387], "nice": false, "zero": false},
                    "axis": {"values": [1, 2], "labelExpr": "datum.value == 1 ? 'DA' : 'DB'", "grid": false, "ticks": false, "domainColor": "#000000", "domainWidth": 3, "labelFontSize": 28, "labelPadding": 3, "titleFontSize": 28, "titlePadding": 3}},
              "x2": {"field": "hi"},
              "color": {"field": "g", "type": "nominal", "scale": {"domain": ["DA", "DB"], "range": ["#3399FF", "#A0DB8E"]}, "legend": null}
            }
          },
          {
            "data": {"name": "box_a"},
            "mark": {"type": "rule", "color": "#000000", "strokeWidth": 3},
            "encoding": {
              "x": {"field": "pos", "type": "quantitative", "title": "Group"},
              "y": {"field": "lower", "type": "quantitative", "title": "Richness"},
              "y2": {"field": "upper"}
            }
          },
          {
            "data": {"name": "box_a"},
            "mark": {"type": "bar", "width": 28, "stroke": "#000000", "strokeWidth": 3, "opacity": 1},
            "encoding": {
              "x": {"field": "pos", "type": "quantitative", "title": "Group"},
              "y": {"field": "q1", "type": "quantitative", "title": "Richness"},
              "y2": {"field": "q3"},
              "color": {"field": "g", "type": "nominal", "legend": null}
            }
          },
          {
            "data": {"name": "box_a"},
            "mark": {"type": "tick", "orient": "horizontal", "size": 31, "thickness": 6, "color": "#000000", "opacity": 1},
            "encoding": {
              "x": {"field": "pos", "type": "quantitative", "title": "Group"},
              "y": {"field": "median", "type": "quantitative", "title": "Richness"}
            }
          },
          {
            "data": {"name": "brk_a"},
            "mark": {"type": "rule", "color": "#000000", "strokeWidth": 1.6},
            "encoding": {
              "x": {"field": "x1", "type": "quantitative", "title": "Group"},
              "x2": {"field": "x2"},
              "y": {"field": "y1", "type": "quantitative", "title": "Richness"},
              "y2": {"field": "y2"}
            }
          },
          {
            "data": {"name": "lab_a"},
            "mark": {"type": "text", "fontSize": 28, "baseline": "alphabetic", "align": "center", "color": "#000000"},
            "encoding": {
              "x": {"field": "lx", "type": "quantitative", "title": "Group"},
              "y": {"field": "ly", "type": "quantitative", "title": "Richness"},
              "text": {"field": "label"}
            }
          }
        ]
      },
      {
        "width": 336, "height": 303,
        "view": {"stroke": null},
        "title": {"text": "b", "anchor": "start", "frame": "bounds", "fontSize": 50, "fontWeight": "bold", "baseline": "top", "offset": 23, "dx": 0},
        "layer": [
          {
            "data": {"name": "violin_b"},
            "mark": {"type": "area", "orient": "horizontal", "stroke": "#000000", "strokeWidth": 3, "strokeJoin": "round", "opacity": 1},
            "encoding": {
              "y": {"field": "y", "type": "quantitative", "title": "Inverse", "scale": {"domain": [-1.09, 8.31], "nice": false, "zero": false},
                    "axis": {"values": [0, 2, 4, 6, 8], "grid": false, "ticks": false, "domainColor": "#000000", "domainWidth": 3, "labelFontSize": 28, "labelPadding": 6, "titleFontSize": 28, "titlePadding": 25}},
              "x": {"field": "lo", "type": "quantitative", "title": "Group", "scale": {"domain": [0.4, 2.6], "nice": false, "zero": false},
                    "axis": {"values": [1, 2], "labelExpr": "datum.value == 1 ? 'DA' : 'DB'", "grid": false, "ticks": false, "domainColor": "#000000", "domainWidth": 3, "labelFontSize": 28, "labelPadding": 3, "titleFontSize": 28, "titlePadding": 3}},
              "x2": {"field": "hi"},
              "color": {"field": "g", "type": "nominal", "scale": {"domain": ["DA", "DB"], "range": ["#3399FF", "#A0DB8E"]}, "legend": null}
            }
          },
          {
            "data": {"name": "box_b"},
            "mark": {"type": "rule", "color": "#000000", "strokeWidth": 3},
            "encoding": {
              "x": {"field": "pos", "type": "quantitative", "title": "Group"},
              "y": {"field": "lower", "type": "quantitative", "title": "Inverse"},
              "y2": {"field": "upper"}
            }
          },
          {
            "data": {"name": "box_b"},
            "mark": {"type": "bar", "width": 28, "stroke": "#000000", "strokeWidth": 3, "opacity": 1},
            "encoding": {
              "x": {"field": "pos", "type": "quantitative", "title": "Group"},
              "y": {"field": "q1", "type": "quantitative", "title": "Inverse"},
              "y2": {"field": "q3"},
              "color": {"field": "g", "type": "nominal", "legend": null}
            }
          },
          {
            "data": {"name": "box_b"},
            "mark": {"type": "tick", "orient": "horizontal", "size": 31, "thickness": 6, "color": "#000000", "opacity": 1},
            "encoding": {
              "x": {"field": "pos", "type": "quantitative", "title": "Group"},
              "y": {"field": "median", "type": "quantitative", "title": "Inverse"}
            }
          },
          {
            "data": {"name": "brk_b"},
            "mark": {"type": "rule", "color": "#000000", "strokeWidth": 1.6},
            "encoding": {
              "x": {"field": "x1", "type": "quantitative", "title": "Group"},
              "x2": {"field": "x2"},
              "y": {"field": "y1", "type": "quantitative", "title": "Inverse"},
              "y2": {"field": "y2"}
            }
          },
          {
            "data": {"name": "lab_b"},
            "mark": {"type": "text", "fontSize": 28, "baseline": "alphabetic", "align": "center", "color": "#000000"},
            "encoding": {
              "x": {"field": "lx", "type": "quantitative", "title": "Group"},
              "y": {"field": "ly", "type": "quantitative", "title": "Inverse"},
              "text": {"field": "label"}
            }
          }
        ]
      }
    ],
    "spacing": 134,
    "title": {"text": "c", "orient": "bottom", "anchor": "start", "frame": "bounds", "fontSize": 50, "fontWeight": "bold", "baseline": "top", "offset": -8, "dx": 2}
  },
  {
    "concat": [
      {
        "data": {"name": "micro"},
        "transform": [{"filter": {"field": "taxon", "oneOf": ["Unclassified", "Bacteroides cellulosilyticus", "Bacteroides uniformis", "Bacteroides salyersiae", "Parabacteroides goldsteinii", "Alistipes onderdonkii", "Barnesiella intestinihominis", "Parabacteroides distasonis", "Parabacteroides merdae", "Bacteroides clarus"]}}],
        "facet": {"field": "taxon", "type": "nominal", "header": {"labels": false, "title": null, "labelFontSize": 1, "labelColor": "#FFFFFF", "labelPadding": 0},
                  "sort": ["Unclassified", "Bacteroides cellulosilyticus", "Bacteroides uniformis", "Bacteroides salyersiae", "Parabacteroides goldsteinii", "Alistipes onderdonkii", "Barnesiella intestinihominis", "Parabacteroides distasonis", "Parabacteroides merdae", "Bacteroides clarus"]},
        "columns": 10,
        "spacing": {"row": 10, "column": 10},
        "spec": {
          "width": 176, "height": 344,
          "layer": [
            {
              "mark": {"type": "boxplot", "extent": 1.5, "size": 60, "ticks": false, "outliers": false, "box": {"fill": "#FFFFFF", "strokeWidth": 1.4}, "median": {"thickness": 1, "strokeWidth": 1.6}, "rule": {"strokeWidth": 1.3}},
              "encoding": {
                "x": {"field": "group", "type": "nominal", "title": null, "scale": {"type": "band", "paddingInner": 0, "paddingOuter": 0.1},
                      "axis": {"labels": false, "ticks": false, "domain": false, "grid": true, "gridColor": "#EBEBEB", "gridWidth": 1.1, "bandPosition": 0.5}},
                "y": {"field": "value", "type": "quantitative", "title": null, "scale": {"domain": [-11.97, 1.4], "nice": false, "zero": false},
                      "axis": {"values": [-10.5, -9, -7.5, -6, -4.5, -3, -1.5, 0], "labelExpr": "datum.value % 3 === 0 ? '' + datum.value : ''", "labelFontSize": 20, "labelPadding": 3, "tickSize": 4, "tickColor": "#333333",
                               "tickOpacity": {"condition": {"test": "datum.value % 3 === 0", "value": 1}, "value": 0}, "domain": false, "grid": true,
                               "gridColor": {"condition": {"test": "datum.value % 3 === 0", "value": "#EBEBEB"}, "value": "#F3F3F3"},
                               "gridWidth": {"condition": {"test": "datum.value % 3 === 0", "value": 1.1}, "value": 0.6}}},
                "stroke": {"field": "group", "type": "nominal", "scale": {"domain": ["DA", "DB"], "range": ["#3399FF", "#A0DB8E"]}, "legend": null}
              }
            },
            {
              "mark": {"type": "boxplot", "extent": 1.5, "size": 60, "box": false, "median": false, "rule": false, "ticks": false, "outliers": {"filled": true, "size": 42, "opacity": 1}},
              "encoding": {
                "x": {"field": "group", "type": "nominal", "title": null},
                "y": {"field": "value", "type": "quantitative", "title": null},
                "color": {"field": "group", "type": "nominal", "scale": {"domain": ["DA", "DB"], "range": ["#3399FF", "#A0DB8E"]}, "legend": null}
              }
            },
            {
              "mark": {"type": "point", "filled": true, "size": 42, "opacity": 1},
              "encoding": {
                "x": {"field": "group", "type": "nominal", "title": null},
                "xOffset": {"field": "sample", "type": "quantitative", "scale": {"domain": [-7.61, 14.61], "zero": false, "nice": false}},
                "y": {"field": "value", "type": "quantitative", "title": null},
                "color": {"field": "group", "type": "nominal", "legend": null}
              }
            },
            {
              "transform": [{"aggregate": [{"op": "count", "as": "n"}], "groupby": ["taxon"]}],
              "mark": {"type": "rect", "fill": "#D9D9D9", "stroke": "#333333", "strokeWidth": 1},
              "encoding": {"x": {"datum": "DA", "bandPosition": -0.1}, "x2": {"datum": "DB", "bandPosition": 1.1}, "y": {"datum": 0.39}, "y2": {"datum": 1.4}}
            },
            {
              "transform": [{"aggregate": [{"op": "count", "as": "n"}], "groupby": ["taxon"]}],
              "mark": {"type": "text", "fontSize": 13.5, "color": "#1A1A1A", "baseline": "middle", "align": "center", "clip": true},
              "encoding": {"x": {"datum": "DA", "bandPosition": 1}, "y": {"datum": 0.895}, "text": {"field": "taxon"}}
            }
          ]
        }
      },
      {
        "hconcat": [
          {
            "concat": [
              {
                "data": {"name": "micro"},
                "transform": [{"filter": {"field": "taxon", "oneOf": ["Odoribacter splanchnicus", "Bacteroides intestinalis"]}}],
                "facet": {"field": "taxon", "type": "nominal", "header": {"labels": false, "title": null, "labelFontSize": 1, "labelColor": "#FFFFFF", "labelPadding": 0}, "sort": ["Odoribacter splanchnicus", "Bacteroides intestinalis"]},
                "columns": 2,
                "spacing": {"row": 10, "column": 10},
                "spec": {
                  "width": 176, "height": 344,
                  "layer": [
                    {
                      "mark": {"type": "boxplot", "extent": 1.5, "size": 60, "ticks": false, "outliers": false, "box": {"fill": "#FFFFFF", "strokeWidth": 1.4}, "median": {"thickness": 1, "strokeWidth": 1.6}, "rule": {"strokeWidth": 1.3}},
                      "encoding": {
                        "x": {"field": "group", "type": "nominal", "title": null, "scale": {"type": "band", "paddingInner": 0, "paddingOuter": 0.1},
                              "axis": {"labels": false, "ticks": false, "domain": false, "grid": true, "gridColor": "#EBEBEB", "gridWidth": 1.1, "bandPosition": 0.5}},
                        "y": {"field": "value", "type": "quantitative", "title": "Log-relative normalized", "scale": {"domain": [-11.97, 1.4], "nice": false, "zero": false},
                              "axis": {"values": [-10.5, -9, -7.5, -6, -4.5, -3, -1.5, 0], "labelExpr": "datum.value % 3 === 0 ? '' + datum.value : ''", "labelFontSize": 20, "labelPadding": 3, "tickSize": 4, "tickColor": "#333333",
                                       "tickOpacity": {"condition": {"test": "datum.value % 3 === 0", "value": 1}, "value": 0}, "domain": false, "grid": true,
                                       "gridColor": {"condition": {"test": "datum.value % 3 === 0", "value": "#EBEBEB"}, "value": "#F3F3F3"},
                                       "gridWidth": {"condition": {"test": "datum.value % 3 === 0", "value": 1.1}, "value": 0.6},
                                       "title": "Log-relative normalized", "titleFontSize": 25, "titlePadding": 11, "titleY": 192}},
                        "stroke": {"field": "group", "type": "nominal", "scale": {"domain": ["DA", "DB"], "range": ["#3399FF", "#A0DB8E"]}, "legend": null}
                      }
                    },
                    {
                      "mark": {"type": "boxplot", "extent": 1.5, "size": 60, "box": false, "median": false, "rule": false, "ticks": false, "outliers": {"filled": true, "size": 42, "opacity": 1}},
                      "encoding": {
                        "x": {"field": "group", "type": "nominal", "title": null},
                        "y": {"field": "value", "type": "quantitative", "title": "Log-relative normalized"},
                        "color": {"field": "group", "type": "nominal", "scale": {"domain": ["DA", "DB"], "range": ["#3399FF", "#A0DB8E"]}, "legend": null}
                      }
                    },
                    {
                      "mark": {"type": "point", "filled": true, "size": 42, "opacity": 1},
                      "encoding": {
                        "x": {"field": "group", "type": "nominal", "title": null},
                        "xOffset": {"field": "sample", "type": "quantitative", "scale": {"domain": [-7.61, 14.61], "zero": false, "nice": false}},
                        "y": {"field": "value", "type": "quantitative", "title": "Log-relative normalized"},
                        "color": {"field": "group", "type": "nominal", "legend": null}
                      }
                    },
                    {
                      "transform": [{"aggregate": [{"op": "count", "as": "n"}], "groupby": ["taxon"]}],
                      "mark": {"type": "rect", "fill": "#D9D9D9", "stroke": "#333333", "strokeWidth": 1},
                      "encoding": {"x": {"datum": "DA", "bandPosition": -0.1}, "x2": {"datum": "DB", "bandPosition": 1.1}, "y": {"datum": 0.39, "title": "Log-relative normalized"}, "y2": {"datum": 1.4}}
                    },
                    {
                      "transform": [{"aggregate": [{"op": "count", "as": "n"}], "groupby": ["taxon"]}],
                      "mark": {"type": "text", "fontSize": 13.5, "color": "#1A1A1A", "baseline": "middle", "align": "center", "clip": true},
                      "encoding": {"x": {"datum": "DA", "bandPosition": 1}, "y": {"datum": 0.895, "title": "Log-relative normalized"}, "text": {"field": "taxon"}}
                    }
                  ]
                }
              },
              {
                "data": {"name": "micro"},
                "transform": [{"filter": {"field": "taxon", "oneOf": ["Enterorhabdus mucosicola", "Eisenbergiella tayi"]}}],
                "facet": {"field": "taxon", "type": "nominal", "header": {"labels": false, "title": null, "labelFontSize": 1, "labelColor": "#FFFFFF", "labelPadding": 0}, "sort": ["Enterorhabdus mucosicola", "Eisenbergiella tayi"]},
                "columns": 2,
                "spacing": {"row": 10, "column": 10},
                "spec": {
                  "width": 176, "height": 344,
                  "layer": [
                    {
                      "mark": {"type": "boxplot", "extent": 1.5, "size": 60, "ticks": false, "outliers": false, "box": {"fill": "#FFFFFF", "strokeWidth": 1.4}, "median": {"thickness": 1, "strokeWidth": 1.6}, "rule": {"strokeWidth": 1.3}},
                      "encoding": {
                        "x": {"field": "group", "type": "nominal", "title": null, "scale": {"type": "band", "paddingInner": 0, "paddingOuter": 0.1},
                              "axis": {"labelAngle": 0, "labelFontSize": 20, "labelPadding": 3, "ticks": true, "tickSize": 4, "tickColor": "#333333", "domain": false, "grid": true, "gridColor": "#EBEBEB", "gridWidth": 1.1, "bandPosition": 0.5}},
                        "y": {"field": "value", "type": "quantitative", "title": null, "scale": {"domain": [-11.97, 1.4], "nice": false, "zero": false},
                              "axis": {"values": [-10.5, -9, -7.5, -6, -4.5, -3, -1.5, 0], "labelExpr": "datum.value % 3 === 0 ? '' + datum.value : ''", "labelFontSize": 20, "labelPadding": 3, "tickSize": 4, "tickColor": "#333333",
                                       "tickOpacity": {"condition": {"test": "datum.value % 3 === 0", "value": 1}, "value": 0}, "domain": false, "grid": true,
                                       "gridColor": {"condition": {"test": "datum.value % 3 === 0", "value": "#EBEBEB"}, "value": "#F3F3F3"},
                                       "gridWidth": {"condition": {"test": "datum.value % 3 === 0", "value": 1.1}, "value": 0.6}}},
                        "stroke": {"field": "group", "type": "nominal", "scale": {"domain": ["DA", "DB"], "range": ["#3399FF", "#A0DB8E"]}, "legend": null}
                      }
                    },
                    {
                      "mark": {"type": "boxplot", "extent": 1.5, "size": 60, "box": false, "median": false, "rule": false, "ticks": false, "outliers": {"filled": true, "size": 42, "opacity": 1}},
                      "encoding": {
                        "x": {"field": "group", "type": "nominal", "title": null},
                        "y": {"field": "value", "type": "quantitative", "title": null},
                        "color": {"field": "group", "type": "nominal", "scale": {"domain": ["DA", "DB"], "range": ["#3399FF", "#A0DB8E"]}, "legend": null}
                      }
                    },
                    {
                      "mark": {"type": "point", "filled": true, "size": 42, "opacity": 1},
                      "encoding": {
                        "x": {"field": "group", "type": "nominal", "title": null},
                        "xOffset": {"field": "sample", "type": "quantitative", "scale": {"domain": [-7.61, 14.61], "zero": false, "nice": false}},
                        "y": {"field": "value", "type": "quantitative", "title": null},
                        "color": {"field": "group", "type": "nominal", "legend": null}
                      }
                    },
                    {
                      "transform": [{"aggregate": [{"op": "count", "as": "n"}], "groupby": ["taxon"]}],
                      "mark": {"type": "rect", "fill": "#D9D9D9", "stroke": "#333333", "strokeWidth": 1},
                      "encoding": {"x": {"datum": "DA", "bandPosition": -0.1}, "x2": {"datum": "DB", "bandPosition": 1.1}, "y": {"datum": 0.39}, "y2": {"datum": 1.4}}
                    },
                    {
                      "transform": [{"aggregate": [{"op": "count", "as": "n"}], "groupby": ["taxon"]}],
                      "mark": {"type": "text", "fontSize": 13.5, "color": "#1A1A1A", "baseline": "middle", "align": "center", "clip": true},
                      "encoding": {"x": {"datum": "DA", "bandPosition": 1}, "y": {"datum": 0.895}, "text": {"field": "taxon"}}
                    }
                  ]
                }
              }
            ],
            "columns": 1,
            "spacing": 6
          },
          {
            "data": {"name": "micro"},
            "transform": [{"filter": {"field": "taxon", "oneOf": ["Bacteroides stercoris", "Blautia producta", "Bilophila wadsworthia", "Clostridium fusiformis", "Bacteroides faecis", "Marvinbryantia formatexigens", "Bacteroides ovatus", "Alistipes shahii"]}}],
            "facet": {"field": "taxon", "type": "nominal", "header": {"labels": false, "title": null, "labelFontSize": 1, "labelColor": "#FFFFFF", "labelPadding": 0}, "sort": ["Bacteroides stercoris", "Blautia producta", "Bilophila wadsworthia", "Clostridium fusiformis", "Bacteroides faecis", "Marvinbryantia formatexigens", "Bacteroides ovatus", "Alistipes shahii"]},
            "columns": 8,
            "spacing": {"row": 10, "column": 10},
            "spec": {
              "width": 176, "height": 344,
              "layer": [
                {
                  "mark": {"type": "boxplot", "extent": 1.5, "size": 60, "ticks": false, "outliers": false, "box": {"fill": "#FFFFFF", "strokeWidth": 1.4}, "median": {"thickness": 1, "strokeWidth": 1.6}, "rule": {"strokeWidth": 1.3}},
                  "encoding": {
                    "x": {"field": "group", "type": "nominal", "title": null, "scale": {"type": "band", "paddingInner": 0, "paddingOuter": 0.1},
                          "axis": {"labelAngle": 0, "labelFontSize": 20, "labelPadding": 3, "ticks": true, "tickSize": 4, "tickColor": "#333333", "domain": false, "grid": true, "gridColor": "#EBEBEB", "gridWidth": 1.1, "bandPosition": 0.5}},
                    "y": {"field": "value", "type": "quantitative", "title": null, "scale": {"domain": [-11.97, 1.4], "nice": false, "zero": false},
                          "axis": {"values": [-10.5, -9, -7.5, -6, -4.5, -3, -1.5, 0], "labels": false, "ticks": false, "domain": false, "grid": true,
                                   "gridColor": {"condition": {"test": "datum.value % 3 === 0", "value": "#EBEBEB"}, "value": "#F3F3F3"},
                                   "gridWidth": {"condition": {"test": "datum.value % 3 === 0", "value": 1.1}, "value": 0.6}}},
                    "stroke": {"field": "group", "type": "nominal", "scale": {"domain": ["DA", "DB"], "range": ["#3399FF", "#A0DB8E"]}, "legend": null}
                  }
                },
                {
                  "mark": {"type": "boxplot", "extent": 1.5, "size": 60, "box": false, "median": false, "rule": false, "ticks": false, "outliers": {"filled": true, "size": 42, "opacity": 1}},
                  "encoding": {
                    "x": {"field": "group", "type": "nominal", "title": null},
                    "y": {"field": "value", "type": "quantitative", "title": null},
                    "color": {"field": "group", "type": "nominal", "scale": {"domain": ["DA", "DB"], "range": ["#3399FF", "#A0DB8E"]}, "legend": null}
                  }
                },
                {
                  "mark": {"type": "point", "filled": true, "size": 42, "opacity": 1},
                  "encoding": {
                    "x": {"field": "group", "type": "nominal", "title": null},
                    "xOffset": {"field": "sample", "type": "quantitative", "scale": {"domain": [-7.61, 14.61], "zero": false, "nice": false}},
                    "y": {"field": "value", "type": "quantitative", "title": null},
                    "color": {"field": "group", "type": "nominal", "legend": null}
                  }
                },
                {
                  "transform": [{"aggregate": [{"op": "count", "as": "n"}], "groupby": ["taxon"]}],
                  "mark": {"type": "rect", "fill": "#D9D9D9", "stroke": "#333333", "strokeWidth": 1},
                  "encoding": {"x": {"datum": "DA", "bandPosition": -0.1}, "x2": {"datum": "DB", "bandPosition": 1.1}, "y": {"datum": 0.39}, "y2": {"datum": 1.4}}
                },
                {
                  "transform": [{"aggregate": [{"op": "count", "as": "n"}], "groupby": ["taxon"]}],
                  "mark": {"type": "text", "fontSize": 13.5, "color": "#1A1A1A", "baseline": "middle", "align": "center", "clip": true},
                  "encoding": {"x": {"datum": "DA", "bandPosition": 1}, "y": {"datum": 0.895}, "text": {"field": "taxon"}}
                }
              ]
            }
          }
        ],
        "spacing": 10
      }
    ],
    "columns": 1,
    "spacing": 8
  }
],
"columns": 1,
"spacing": 18,
"align": "none"
}
